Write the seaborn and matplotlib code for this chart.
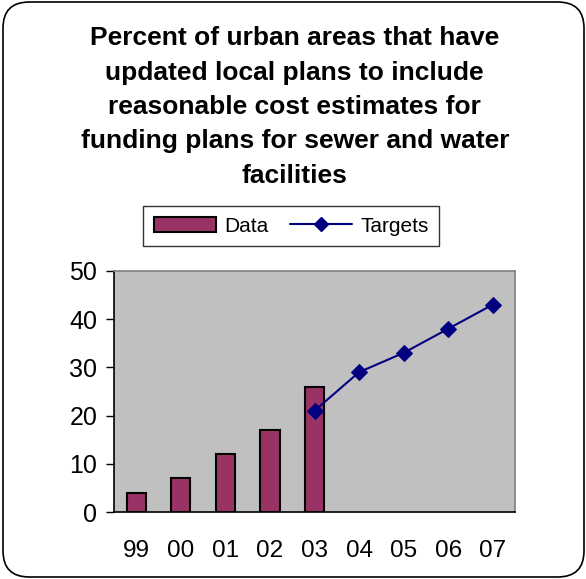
import numpy as np
import pandas as pd
import matplotlib
matplotlib.use("Agg")
import matplotlib.pyplot as plt
import seaborn as sns
from matplotlib.patches import FancyBboxPatch
from matplotlib.ticker import FixedLocator
from matplotlib.lines import Line2D
from matplotlib.patches import Patch

# данные с графика
years = ["99", "00", "01", "02", "03", "04", "05", "06", "07"]
data_values = [4, 7, 12, 17, 26, None, None, None, None]
target_values = [None, None, None, None, 21, 29, 33, 38, 43]

sns.set_style("white")
plt.rcParams['font.family'] = ['Liberation Sans', 'DejaVu Sans']
plt.rcParams['text.color'] = 'black'
plt.rcParams['xtick.color'] = 'black'
plt.rcParams['ytick.color'] = 'black'
plt.rcParams['xtick.labelcolor'] = 'black'
plt.rcParams['ytick.labelcolor'] = 'black'

df = pd.DataFrame({"year": years,
                   "Data": pd.array(data_values, dtype="Float64"),
                   "Targets": pd.array(target_values, dtype="Float64")})
df["pos"] = np.arange(len(years))

fig = plt.figure(figsize=(5.86, 5.79), dpi=100)
ax = fig.add_axes([0.1945, 0.1157, 0.6845, 0.4165])

bar_color = "#993366"
line_color = "#000080"

sns.barplot(data=df, x="year", y="Data", order=years, color=bar_color,
            width=0.43, edgecolor="black", linewidth=1.5, saturation=1, ax=ax)

tg = df.dropna(subset=["Targets"])
sns.lineplot(x=tg["pos"], y=tg["Targets"].astype(float), color=line_color,
             marker="D", markersize=8, markeredgecolor=line_color,
             linewidth=1.5, ax=ax)

ax.set_facecolor("#C0C0C0")
ax.set_xlim(-0.5, len(years) - 0.5)
ax.set_ylim(0, 50)
ax.set_yticks([0, 10, 20, 30, 40, 50])
ax.set_xlabel("")
ax.set_ylabel("")

# деления на границах категорий
ax.xaxis.set_minor_locator(FixedLocator(np.arange(-0.5, len(years), 1.0)))
ax.tick_params(axis="x", which="major", length=0, pad=20, labelsize=17.5)
ax.tick_params(axis="x", which="minor", length=7, width=1, direction="inout", color="black")
ax.tick_params(axis="y", which="major", length=6, width=1, direction="out", pad=6,
               labelsize=18, left=True, color="black")

for side in ["left", "bottom"]:
    ax.spines[side].set_color("black")
    ax.spines[side].set_linewidth(1.2)
for side in ["top", "right"]:
    ax.spines[side].set_color("#808080")
    ax.spines[side].set_linewidth(1.2)

# легенда
handles = [Patch(facecolor=bar_color, edgecolor="black", linewidth=1.5),
           Line2D([0], [0], color=line_color, marker="D", markersize=7, linewidth=1.5)]
leg = fig.legend(handles, ["Data", "Targets"], loc="center",
                 bbox_to_anchor=(0.497, 1 - 226 / 579), ncol=2, fontsize=15,
                 frameon=True, fancybox=False, edgecolor="black",
                 handlelength=3.0, handletextpad=0.4, columnspacing=1.0,
                 borderpad=0.5)
leg.get_frame().set_linewidth(1.0)

title = ("Percent of urban areas that have\nupdated local plans to include\n"
         "reasonable cost estimates for\nfunding plans for sewer and water\nfacilities")
fig.text(0.503, 1 - 107 / 579, title, ha="center", va="center", fontsize=19,
         fontweight="bold", linespacing=1.55)

border = FancyBboxPatch((3 / 586, 2 / 579), 581 / 586, 575 / 579,
                        boxstyle="round,pad=0,rounding_size=0.045",
                        transform=fig.transFigure, facecolor="none",
                        edgecolor="black", linewidth=1.2)
fig.patches.append(border)

fig.savefig("out.png", dpi=100)
